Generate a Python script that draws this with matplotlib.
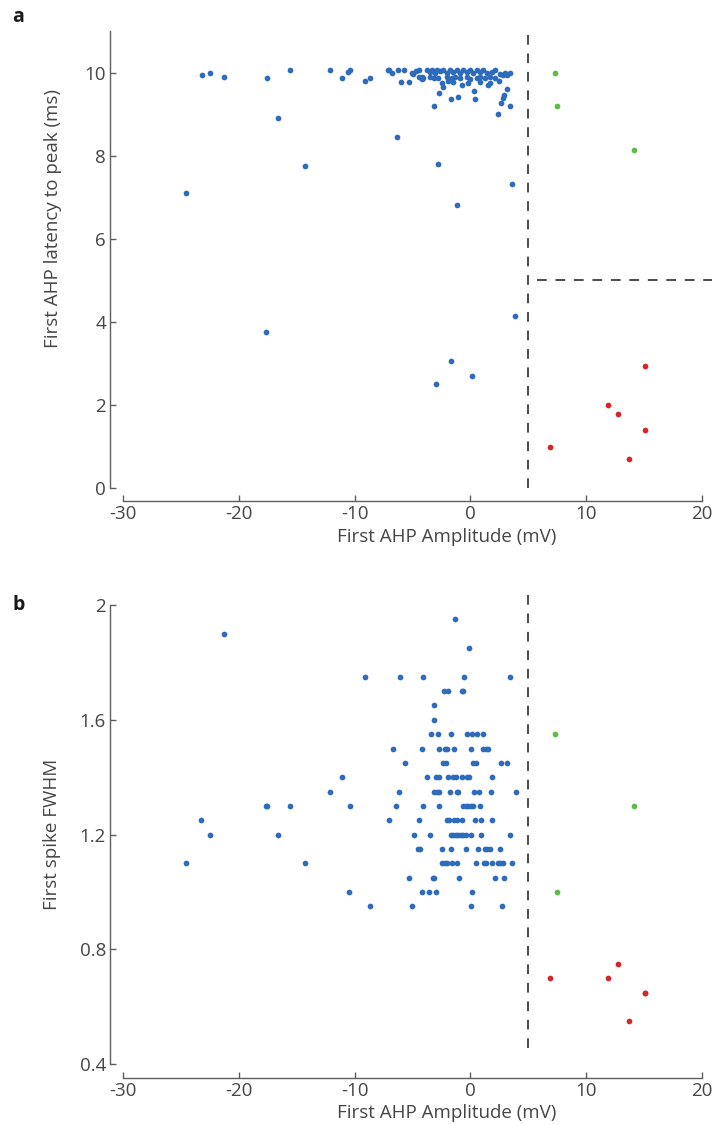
import matplotlib
matplotlib.use("Agg")
import matplotlib.pyplot as plt

plt.rcParams['font.family'] = ['Open Sans', 'DejaVu Sans']
plt.rcParams['lines.scale_dashes'] = False
plt.rcParams['axes.unicode_minus'] = False

# panel a, blue cells: first AHP amplitude (mV) vs latency to peak (ms)
amp_a = [-24.59, -23.20, -22.51, -21.25, -17.56, -17.68, -16.59, -15.55, -14.31,
         -12.15, -11.09, -10.54, -10.42, -9.10, -8.70, -7.09, -6.34, -2.80, -1.16,
         3.60, 3.88, -1.68, 0.11, -3.00,
         -7.03, -6.74, -6.22, -5.73, -5.07, -4.92, -4.69, -4.41, -4.20, -3.77, -3.48,
         -3.34, -3.05, -2.91, -2.62, -2.33, -2.04, -1.76, -1.47, -1.18, -0.89, -0.60,
         -0.32, -0.03, 0.26, 0.55, 0.84, 1.13, 1.41, 1.85, 2.13, 2.57, 3.00, 3.43,
         -4.41, -4.06, -3.48, -2.76, -2.04, -1.61, -1.32, -0.89, -0.32, -0.03, 0.55,
         0.84, 1.27, 1.70, 2.13, 2.85, 3.14,
         -6.02, -5.30, -4.20, -3.11, -2.48, -1.90, -1.47, -0.75, -0.17, 0.84, 1.70, 2.51,
         -2.39, 0.35, 1.50, 3.14, -2.68, 2.94, -1.67, -1.09, 0.41, 2.85, 2.62, -3.11,
         3.43, 2.36]
lat_a = [7.09, 9.95, 10.00, 9.90, 9.86, 3.75, 8.90, 10.05, 7.75,
         10.05, 9.86, 10.01, 10.05, 9.80, 9.86, 10.05, 8.45, 7.80, 6.80,
         7.31, 4.14, 3.04, 2.69, 2.49,
         10.05, 10.00, 10.05, 10.05, 10.00, 9.97, 10.03, 10.05, 9.90, 10.05, 10.02,
         10.05, 10.00, 10.05, 10.03, 10.05, 10.00, 10.05, 10.02, 10.05, 10.00, 10.05,
         10.02, 10.05, 10.00, 10.05, 10.02, 10.05, 10.00, 10.02, 10.05, 9.97, 10.00, 10.00,
         9.90, 9.86, 9.90, 9.88, 9.90, 9.86, 9.90, 9.86, 9.90, 9.84, 9.88,
         9.90, 9.86, 9.90, 9.86, 9.94, 9.94,
         9.76, 9.76, 9.84, 9.86, 9.74, 9.80, 9.78, 9.70, 9.74, 9.78, 9.74, 9.80,
         9.66, 9.56, 9.70, 9.60, 9.50, 9.46, 9.36, 9.41, 9.36, 9.38, 9.26, 9.20,
         9.20, 9.00]

# panel b, blue cells: spike FWHM rows and the amplitudes found on each row
fwhm_rows = [1.95, 1.90, 1.85, 1.75, 1.70, 1.65, 1.60, 1.55, 1.50, 1.45, 1.40,
             1.35, 1.30, 1.25, 1.20, 1.15, 1.10, 1.05, 1.00, 0.95]
amp_rows = [
    [-1.35],
    [-21.26],
    [-0.09],
    [-9.10, -6.05, -4.06, -0.54, 3.43],
    [-2.25, -1.95, -0.74, -0.66],
    [-3.16],
    [-3.11],
    [-3.37, -2.82, -1.64, -0.26, 0.12, 0.60, 1.12],
    [-6.71, -4.17, -2.73, -2.19, -1.99, -1.43, 0.03, 1.07, 1.36, 1.56],
    [-5.64, -2.33, -2.13, 0.26, 0.47, 2.63, 3.15],
    [-11.09, -3.77, -2.96, -2.71, -1.95, -1.47, -1.24, -0.74, -0.31, -0.11, 1.90],
    [-12.15, -6.16, -3.11, -2.85, -2.68, -1.73, -1.18, -1.06, 0.35, 0.78, 1.82, 3.92],
    [-17.68, -17.57, -15.58, -10.40, -6.45, -4.11, -2.68, -0.60, -0.40, -0.17, 0.03, 0.26, 0.84],
    [-23.25, -7.03, -4.41, -2.04, -1.82, -1.38, -1.18, -0.74, 0.41, 0.92, 1.85],
    [-22.52, -16.59, -4.84, -3.46, -1.67, -1.47, -1.24, -1.04, -0.80, -0.60, -0.37, 0.03, 0.90, 3.40],
    [-4.55, -4.35, -2.45, -1.64, -0.40, 0.69, 1.27, 1.47, 1.70, 2.57],
    [-24.60, -14.31, -2.42, -2.21, -1.99, -1.56, -1.15, 0.49, 1.21, 1.33, 1.88, 2.37, 2.57, 2.80, 3.63],
    [-5.32, -3.20, -3.11, -0.95, 2.11, 2.91],
    [-10.51, -4.15, -3.54, -2.96, 0.15],
    [-8.70, -5.04, 0.06, 2.74],
]
amp_b = [a for row in amp_rows for a in row]
fwhm_b = [f for f, row in zip(fwhm_rows, amp_rows) for a in row]

# green and red cells (same cells in both panels)
amp_green = [7.35, 7.48, 14.13]
lat_green = [10.00, 9.20, 8.14]
fwhm_green = [1.55, 1.00, 1.30]

amp_red = [6.85, 11.94, 12.77, 13.72, 15.08, 15.08]
lat_red = [0.98, 1.985, 1.78, 0.68, 2.94, 1.38]
fwhm_red = [0.70, 0.70, 0.75, 0.55, 0.65, 0.65]

BLUE = "#2e6bbd"
GREEN = "#5dbb46"
RED = "#d7262b"
GREY = "#5f5f5f"
TXT = "#454545"
S = 17

W, H = 712, 1124
fig = plt.figure(figsize=(W/100, H/100), dpi=100)

x0, x1 = 123.2, 701.7
ax_a = fig.add_axes([x0/W, 1-487.7/H, (x1-x0)/W, (487.7-31)/H])
ax_b = fig.add_axes([x0/W, 1-1064.3/H, (x1-x0)/W, (1064.3-605)/H])

def style(ax, ylo, yhi, off_bottom):
    for s in ['top', 'right']:
        ax.spines[s].set_visible(False)
    ax.spines['left'].set_position(('outward', 13*0.72))
    ax.spines['bottom'].set_position(('outward', off_bottom*0.72))
    ax.spines['left'].set_bounds(ylo, yhi)
    ax.spines['bottom'].set_bounds(-30, 20)
    for s in ['left', 'bottom']:
        ax.spines[s].set_color(GREY)
        ax.spines[s].set_linewidth(1.0)
    ax.tick_params(direction='in', length=4.3, width=1.0, color=GREY,
                   labelcolor=TXT, labelsize=13.5, pad=3)
    ax.set_xlim(-30, 20)
    ax.set_xticks([-30, -20, -10, 0, 10, 20])
    ax.patch.set_alpha(0)

# panel a
ax_a.scatter(amp_a, lat_a, s=S, color=BLUE, linewidths=0, zorder=3)
ax_a.scatter(amp_green, lat_green, s=S, color=GREEN, linewidths=0, zorder=3)
ax_a.scatter(amp_red, lat_red, s=S, color=RED, linewidths=0, zorder=3)
ax_a.plot([5, 5], [0, 11], color="#1a1a1a", lw=1.1, dashes=(7, 6.3), clip_on=False)
ax_a.plot([5.74, 20.9], [5, 5], color="#1a1a1a", lw=1.1, dashes=(7, 6.3), clip_on=False)
ax_a.set_ylim(0, 11)
ax_a.set_yticks([0, 2, 4, 6, 8, 10])
style(ax_a, 0, 11, 13)

# panel b
ax_b.scatter(amp_b, fwhm_b, s=S, color=BLUE, linewidths=0, zorder=3)
ax_b.scatter(amp_green, fwhm_green, s=S, color=GREEN, linewidths=0, zorder=3)
ax_b.scatter(amp_red, fwhm_red, s=S, color=RED, linewidths=0, zorder=3)
ax_b.plot([5, 5], [0.457, 2.05], color="#1a1a1a", lw=1.1, dashes=(7, 6.3), clip_on=False)
ax_b.set_ylim(0.4, 2.0)
ax_b.set_yticks([0.4, 0.8, 1.2, 1.6, 2.0])
ax_b.set_yticklabels(["0.4", "0.8", "1.2", "1.6", "2"])
style(ax_b, 0.4, 2.0, 14)

# axis titles, placed where they sit in the original figure
lab = dict(fontsize=13.5, color=TXT, ha='center', va='center')
fig.text(447/W, 1-537/H, "First AHP Amplitude (mV)", **lab)
fig.text(447/W, 1-1113/H, "First AHP Amplitude (mV)", **lab)
fig.text(53/W, 1-219/H, "First AHP latency to peak (ms)", rotation=90, **lab)
fig.text(52/W, 1-834/H, "First spike FWHM", rotation=90, **lab)

fig.text(12/W, 1-17/H, "a", fontsize=14, fontweight='bold', color="#1a1a1a", va='center')
fig.text(12/W, 1-605/H, "b", fontsize=14, fontweight='bold', color="#1a1a1a", va='center')

fig.savefig("out.png", dpi=100)
